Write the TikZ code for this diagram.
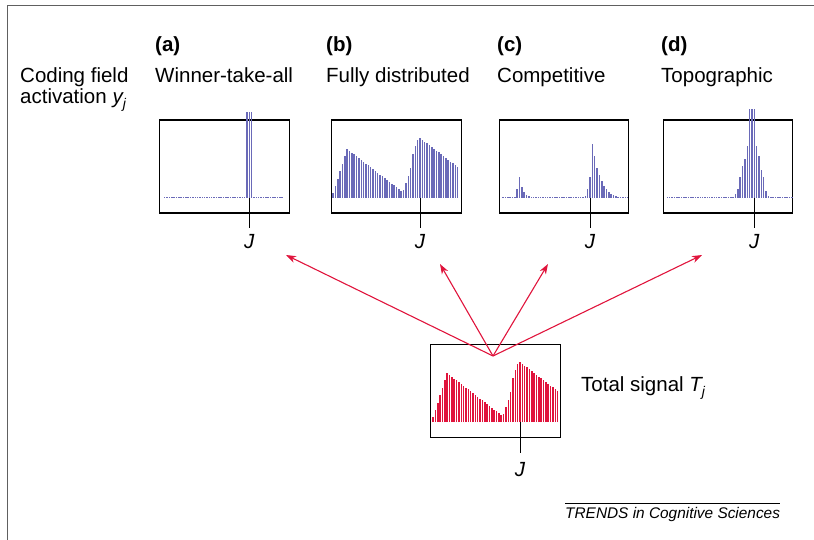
\documentclass[tikz,border=0pt]{standalone}
\usepackage{fontspec}
\setmainfont{Liberation Sans}
\usetikzlibrary{arrows.meta}
\definecolor{barblue}{HTML}{6A6AB8}
\definecolor{barred}{HTML}{E0143C}
\definecolor{framegray}{HTML}{606060}
\newcommand\histbars[4]{%
  \foreach \hh [count=\ii from 0] in {#4} {\draw[#3] ({#1+2.35*\ii},#2) -- ++(0,-\hh);}}
\begin{document}
\begin{tikzpicture}[x=1pt,y=-1pt,
  lbl/.style={font=\fontsize{20.5}{21}\selectfont, inner sep=0pt, anchor=base west},
  hd/.style={font=\fontsize{20.5}{21}\selectfont\bfseries, inner sep=0pt, anchor=base west},
  jlbl/.style={font=\fontsize{20.5}{21}\selectfont\itshape, inner sep=0pt, anchor=base},
  plotbox/.style={draw=black, line width=1.2pt, minimum width=129.5pt, minimum height=93pt, inner sep=0pt},
  bbar/.style={barblue, line width=1.5pt},
  rbar/.style={barred, line width=1.5pt},
  jtick/.style={black, line width=1pt},
  sig/.style={barred, line width=1.1pt, -{Stealth[length=10pt,width=7pt,inset=3pt]}}]
\useasboundingbox (0,0) rectangle (814,540);
% frame
\draw[framegray, line width=1.5pt] (7.3,540) -- (7.3,5.7) -- (814,5.7);
% left labels
\node[lbl] (cf) at (20,83) {Coding field};
\node[lbl] (ca) at (20,104) {activation {\itshape y}\raisebox{-5pt}{\fontsize{14}{14}\selectfont\itshape j}};
% headings
\node[hd] (ha) at (155,52) {(a)};
\node[lbl] (ta) at (155,83) {Winner-take-all};
\node[hd] (hb) at (326,52) {(b)};
\node[lbl] (tb) at (326,83) {Fully distributed};
\node[hd] (hc) at (497,52) {(c)};
\node[lbl] (tc) at (497,83) {Competitive};
\node[hd] (hd) at (661,52) {(d)};
\node[lbl] (td) at (661,83) {Topographic};
% boxes
\node[plotbox] (A) at (224.5,166.5) {};
\node[plotbox] (B) at (396.5,166.5) {};
\node[plotbox] (C) at (564,166.5) {};
\node[plotbox] (D) at (728,166.5) {};
\node[plotbox] (T) at (495.5,391) {};
% (a) winner-take-all
\histbars{164.7}{198}{bbar}{1,1,1,1,1,1,1,1,1,1,1,1,1,1,1,1,1,1,1,1,1,1,1,1,1,1,1,1,1,1,1,1,1,1,1,86,86,86,1,1,1,1,1,1,1,1,1,1,1,1,1}
% (b) fully distributed
\histbars{333.05}{198}{bbar}{5,12,19,27,34,42,49,47.2,45.3,43.5,41.7,39.9,38.0,36.2,34.4,32.6,30.7,28.9,27.1,25.3,23.4,21.6,19.8,18.0,16.1,14.3,12.5,10.7,8.8,7.0,8,15,22,30,44,52,58,60,58.2,56.4,54.6,52.8,50.9,49.1,47.3,45.5,43.7,41.9,40.1,38.3,36.4,34.6,32.8,31.0}
% (c) competitive
\histbars{503.05}{198}{bbar}{1,1,1,1,1,1,9,21,11,6,3,2,1,1,1,1,1,1,1,1,1,1,1,1,1,1,1,1,1,1,1,1,1,1,1,2,9,21,54,42,30,23,17,12,9,6,4,3,2,1,1,1,1,1}
% (d) topographic
\histbars{667.35}{198}{bbar}{1,1,1,1,1,1,1,1,1,1,1,1,1,1,1,1,1,1,1,1,1,1,1,1,1,1,1,1,1,4,9,21,32,39,52,89,89,89,52,42,28,21,7,2,1,1,1,1,1,1,1,1,1,1}
% total signal
\histbars{433.05}{422}{rbar}{5,12,19,27,34,42,49,47.2,45.3,43.5,41.7,39.9,38.0,36.2,34.4,32.6,30.7,28.9,27.1,25.3,23.4,21.6,19.8,18.0,16.1,14.3,12.5,10.7,8.8,7.0,8,15,22,30,44,52,58,60,58.2,56.4,54.6,52.8,50.9,49.1,47.3,45.5,43.7,41.9,40.1,38.3,36.4,34.6,32.8,31.0}
% J ticks and labels
\coordinate (pa) at (249.3,198); \coordinate (qa) at (249.3,228);
\coordinate (pb) at (420,198);   \coordinate (qb) at (420,228);
\coordinate (pc) at (590,198);   \coordinate (qc) at (590,228);
\coordinate (pd) at (754.3,198); \coordinate (qd) at (754.3,228);
\coordinate (pt) at (520,422);   \coordinate (qt) at (520,453);
\draw[jtick] (pa) -- (qa);
\draw[jtick] (pb) -- (qb);
\draw[jtick] (pc) -- (qc);
\draw[jtick] (pd) -- (qd);
\draw[jtick] (pt) -- (qt);
\node[jlbl] (ja) at (249.3,248) {J};
\node[jlbl] (jb) at (420,248) {J};
\node[jlbl] (jc) at (590,248) {J};
\node[jlbl] (jd) at (754.3,248) {J};
\node[jlbl] (jt) at (520,476) {J};
% total signal label
\node[lbl] (ts) at (581,391) {Total signal {\itshape T}\raisebox{-5pt}{\fontsize{14}{14}\selectfont\itshape j}};
% arrows
\coordinate (src) at (493,356);
\coordinate (ea) at (286,255);
\coordinate (eb) at (440,264);
\coordinate (ec) at (548,264);
\coordinate (ed) at (702,255);
\draw[sig] (src) -- (ea);
\draw[sig] (src) -- (eb);
\draw[sig] (src) -- (ec);
\draw[sig] (src) -- (ed);
% credit
\node[font=\fontsize{15.4}{16}\selectfont\itshape, inner sep=0pt, anchor=base west] (cr) at (565,518) {TRENDS in Cognitive Sciences};
\draw[black, line width=0.8pt] (cr.west |- 0,503) -- (cr.east |- 0,503);
\end{tikzpicture}
\end{document}
